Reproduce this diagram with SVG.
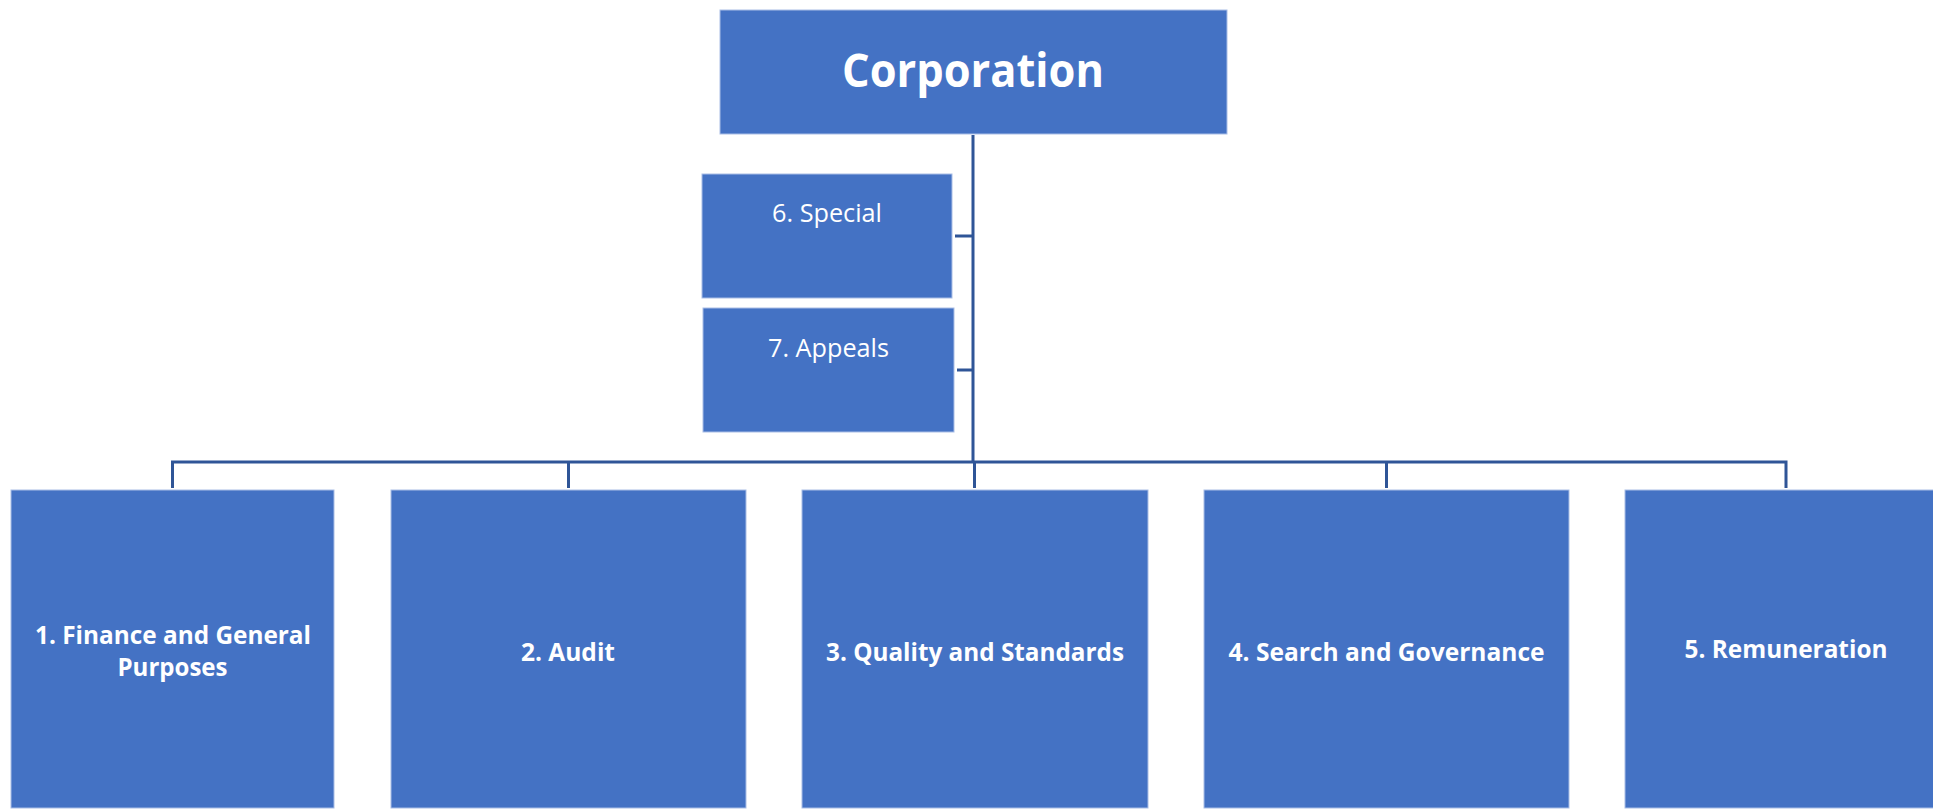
<svg xmlns="http://www.w3.org/2000/svg" width="1933" height="810" viewBox="0 0 1933 810">
<style>
.box{fill:#4472C4;stroke:#A9BEE6;stroke-width:1}
.conn{fill:none;stroke:#2F5597;stroke-width:3}
.t{fill:#FFFFFF;font-family:"Open Sans","Liberation Sans",sans-serif;text-anchor:middle}
.b{font-weight:bold;font-size:25px}
.r{font-size:25px}
</style>
<rect width="1933" height="810" fill="#FFFFFF"/>
<g id="connectors">
<path class="conn" d="M973 135 V462"/>
<path class="conn" d="M955 236 H973"/>
<path class="conn" d="M957 370 H973"/>
<path class="conn" d="M172.5 488 V462 H1786 V488"/>
<path class="conn" d="M568.5 462 V488"/>
<path class="conn" d="M974.5 462 V488"/>
<path class="conn" d="M1386.5 462 V488"/>
</g>
<g id="corporation">
<rect class="box" x="720" y="10" width="507" height="124"/>
<text class="t" x="973" y="87" font-size="46" font-weight="bold" textLength="262" lengthAdjust="spacingAndGlyphs">Corporation</text>
</g>
<g id="special">
<rect class="box" x="702" y="174" width="250" height="124"/>
<text class="t r" x="827" y="222" textLength="110" lengthAdjust="spacingAndGlyphs">6. Special</text>
</g>
<g id="appeals">
<rect class="box" x="703" y="308" width="251" height="124"/>
<text class="t r" x="828.5" y="357" textLength="121" lengthAdjust="spacingAndGlyphs">7. Appeals</text>
</g>
<g id="finance">
<rect class="box" x="11" y="490" width="323" height="318"/>
<text class="t b" x="173" y="644" textLength="276" lengthAdjust="spacingAndGlyphs">1. Finance and General</text>
<text class="t b" x="172.5" y="676" textLength="110" lengthAdjust="spacingAndGlyphs">Purposes</text>
</g>
<g id="audit">
<rect class="box" x="391" y="490" width="355" height="318"/>
<text class="t b" x="568" y="661" textLength="94" lengthAdjust="spacingAndGlyphs">2. Audit</text>
</g>
<g id="quality">
<rect class="box" x="802" y="490" width="346" height="318"/>
<text class="t b" x="975" y="661" textLength="298" lengthAdjust="spacingAndGlyphs">3. Quality and Standards</text>
</g>
<g id="search">
<rect class="box" x="1204" y="490" width="365" height="318"/>
<text class="t b" x="1386.5" y="661" textLength="316" lengthAdjust="spacingAndGlyphs">4. Search and Governance</text>
</g>
<g id="remuneration">
<rect class="box" x="1625" y="490" width="322" height="318"/>
<text class="t b" x="1786" y="658" textLength="203" lengthAdjust="spacingAndGlyphs">5. Remuneration</text>
</g>
</svg>
